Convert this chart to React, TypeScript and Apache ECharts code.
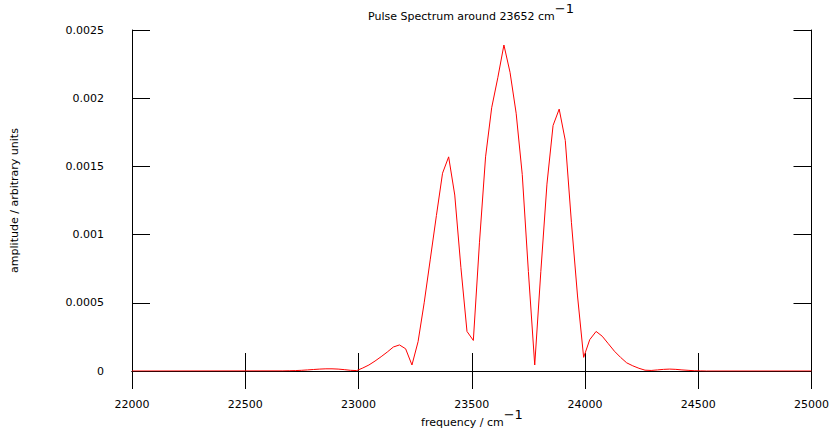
import React, { useEffect, useRef } from "react";
import * as echarts from "echarts";

const frequencies = [
  22000, 22666, 22694, 22721, 22748, 22775, 22802, 22829, 22856, 22883, 22910,
  22937, 22965, 22992, 23019, 23046, 23073, 23100, 23127, 23154, 23181, 23208,
  23236, 23263, 23290, 23317, 23344, 23371, 23398, 23425, 23452, 23479, 23507,
  23534, 23561, 23588, 23615, 23642, 23669, 23696, 23723, 23750, 23778, 23805,
  23832, 23859, 23886, 23913, 23940, 23967, 23994, 24021, 24049, 24076, 24103,
  24130, 24157, 24184, 24211, 24238, 24265, 24292, 24320, 24347, 24374, 24401,
  24428, 24455, 24482, 24509, 24536, 25000,
];

const amplitudes = [
  0, 0.000001, 0.000002, 0.000003, 0.000005, 0.000008, 0.000011, 0.000014,
  0.000016, 0.000016, 0.000014, 0.00001, 0.000005, 0.000003, 0.000022,
  0.000044, 0.000073, 0.000105, 0.000139, 0.000176, 0.000191, 0.000163,
  0.000044, 0.000215, 0.0005, 0.00082, 0.00114, 0.00145, 0.00157, 0.00129,
  0.00076, 0.00029, 0.000224, 0.00094, 0.00157, 0.00193, 0.00215, 0.00239,
  0.00219, 0.00189, 0.00144, 0.00073, 0.000044, 0.00073, 0.00137, 0.0018,
  0.00192, 0.00169, 0.00109, 0.00055, 0.0001, 0.00023, 0.00029, 0.000255,
  0.0002, 0.000145, 0.0001, 0.00006, 0.000038, 0.00002, 0.000006, 0.000004,
  0.000008, 0.000012, 0.000014, 0.000012, 0.000008, 0.000005, 0.000002,
  0.000001, 0, 0,
];

const xTickValues = [22000, 22500, 23000, 23500, 24000, 24500, 25000];
const yTickLabels = ["0", "0.0005", "0.001", "0.0015", "0.002", "0.0025"];

const FONT = "DejaVu Sans";

export default function App() {
  const ref = useRef<HTMLDivElement>(null);

  useEffect(() => {
    if (!ref.current) return;
    const chart = echarts.init(ref.current, null, { renderer: "svg" });
    const axisLine = { show: true, lineStyle: { color: "#000", width: 1 } };
    const tick = { show: true, inside: true, length: 18, lineStyle: { color: "#000", width: 1 } };
    const fmtY = (v: number) => {
      const i = Math.round(v / 0.0005);
      return yTickLabels[i] ?? String(v);
    };
    const rich = {
      a: { fontFamily: FONT, fontSize: 11, fill: "#000", verticalAlign: "bottom", lineHeight: 20 },
      b: { fontFamily: FONT, fontSize: 13, fill: "#000", verticalAlign: "top", lineHeight: 20 },
    };
    chart.setOption({
      animation: false,
      backgroundColor: "#fff",
      grid: { left: 132, right: 20, top: 30, bottom: 59, containLabel: false },
      xAxis: [
        {
          type: "value",
          min: 22000,
          max: 25000,
          interval: 500,
          position: "bottom",
          axisLine,
          axisTick: tick,
          splitLine: { show: false },
          axisLabel: {
            margin: 28,
            color: "#000",
            fontFamily: FONT,
            fontSize: 11,
            formatter: (v: number) => (xTickValues.includes(v) ? String(v) : ""),
          },
        },
        {
          type: "value",
          min: 22000,
          max: 25000,
          interval: 500,
          position: "top",
          axisLine,
          axisTick: tick,
          splitLine: { show: false },
          axisLabel: { show: false },
        },
      ],
      yAxis: [
        {
          type: "value",
          min: 0,
          max: 0.0025,
          interval: 0.0005,
          position: "left",
          axisLine,
          axisTick: tick,
          splitLine: { show: false },
          axisLabel: {
            margin: 28,
            color: "#000",
            fontFamily: FONT,
            fontSize: 11,
            formatter: fmtY,
          },
          name: "amplitude / arbitrary units",
          nameLocation: "middle",
          nameRotate: 90,
          nameGap: 112,
          nameTextStyle: { color: "#000", fontFamily: FONT, fontSize: 11 },
        },
        {
          type: "value",
          min: 0,
          max: 0.0025,
          interval: 0.0005,
          position: "right",
          axisLine,
          axisTick: tick,
          splitLine: { show: false },
          axisLabel: { show: false },
        },
      ],
      series: [
        {
          type: "line",
          data: frequencies.map((f, i) => [f, amplitudes[i]]),
          showSymbol: false,
          symbol: "none",
          clip: true,
          lineStyle: { color: "#ff0000", width: 1 },
          z: 1,
        },
      ],
      graphic: [
        {
          type: "text",
          x: 471,
          y: 12,
          style: {
            text: "{a|Pulse Spectrum around 23652 cm}{b|−1}",
            align: "center",
            verticalAlign: "middle",
            rich,
          },
        },
        {
          type: "text",
          x: 472,
          y: 418,
          style: {
            text: "{a|frequency / cm}{b|−1}",
            align: "center",
            verticalAlign: "middle",
            rich,
          },
        },
      ],
    });
    return () => chart.dispose();
  }, []);

  return <div ref={ref} style={{ width: 832, height: 430, position: "absolute", left: 0, top: 0 }} />;
}
